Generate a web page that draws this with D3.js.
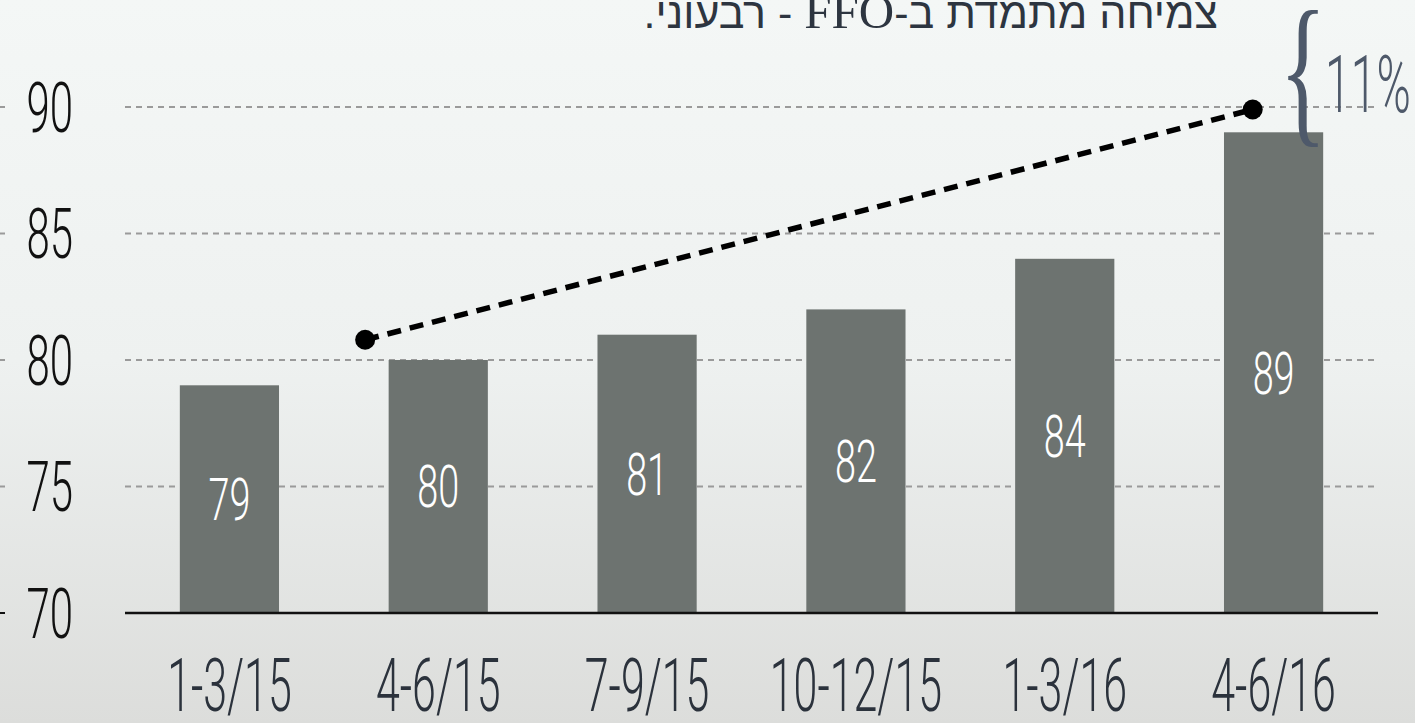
<!DOCTYPE html>
<html>
<head>
<meta charset="utf-8">
<script src="https://cdn.jsdelivr.net/npm/d3@7"></script>
<style>
  html, body { margin: 0; padding: 0; background: #eef0ef; }
  svg { display: block; }
</style>
</head>
<body>
<svg id="chart"></svg>
<script>
const quarters = ["1-3/15", "4-6/15", "7-9/15", "10-12/15", "1-3/16", "4-6/16"]
const ffo = [79, 80, 81, 82, 84, 89]
const yTicks = [70, 75, 80, 85, 90]
// trend line ends: position in category units, value on the y scale
const trendAt = [0.65, 4.9]
const trendValue = [80.8, 89.9]
const titleParts = ["צמיחה מתמדת ב-", "FFO", " - רבעוני."]
const growthLabel = "11%"

const width = 1415, height = 723
const margin = {top: 107, right: 37, bottom: 110, left: 125}

const svg = d3.select("#chart")
    .attr("width", width)
    .attr("height", height)

// washed out backdrop
const defs = svg.append("defs")
const grad = defs.append("linearGradient")
    .attr("id", "bg").attr("x1", 0).attr("y1", 0).attr("x2", 0).attr("y2", 1)
grad.append("stop").attr("offset", "0%").attr("stop-color", "#f4f7f6")
grad.append("stop").attr("offset", "50%").attr("stop-color", "#eef1f0")
grad.append("stop").attr("offset", "100%").attr("stop-color", "#dcdddb")
svg.append("rect")
    .attr("width", width).attr("height", height)
    .attr("fill", "url(#bg)")

const x = d3.scaleBand()
    .domain(quarters)
    .range([margin.left, width - margin.right])
    .paddingInner(0.525)
    .paddingOuter(0.2625)

const y = d3.scaleLinear()
    .domain([70, 90])
    .range([613, margin.top])

const xPos = d3.scaleLinear()
    .domain([0, quarters.length - 1])
    .range([x(quarters[0]) + x.bandwidth() / 2, x(quarters[quarters.length - 1]) + x.bandwidth() / 2])

const thin = "Roboto, 'Open Sans', sans-serif"

// grid lines
const grid = svg.append("g")
grid.selectAll(".grid")
    .data(yTicks.filter(d => d !== 70))
    .join("line")
    .attr("x1", margin.left).attr("x2", width - margin.right)
    .attr("y1", d => y(d)).attr("y2", d => y(d))
    .attr("stroke", "#9a9a9a")
    .attr("stroke-width", 2)
    .attr("stroke-dasharray", "6,5")
grid.selectAll(".stub")
    .data(yTicks)
    .join("line")
    .attr("x1", 0).attr("x2", 5)
    .attr("y1", d => y(d)).attr("y2", d => y(d))
    .attr("stroke", d => d === 70 ? "#111" : "#9a9a9a")
    .attr("stroke-width", 2)

// y labels
svg.append("g")
    .selectAll("text")
    .data(yTicks)
    .join("text")
    .attr("transform", d => `translate(73,${y(d)}) scale(0.6,1)`)
    .attr("text-anchor", "end")
    .attr("dy", "0.355em")
    .style("font-family", thin)
    .style("font-weight", 300)
    .style("font-size", "70px")
    .attr("fill", "#111")
    .text(d => d)

// bars
svg.append("g")
    .selectAll("rect")
    .data(ffo)
    .join("rect")
    .attr("x", (d, i) => x(quarters[i]))
    .attr("width", x.bandwidth())
    .attr("y", d => y(d))
    .attr("height", d => y(70) - y(d))
    .attr("fill", "#6d7370")

// value labels inside bars
svg.append("g")
    .selectAll("text")
    .data(ffo)
    .join("text")
    .attr("transform", (d, i) => `translate(${x(quarters[i]) + x.bandwidth() / 2},${(y(d) + y(70)) / 2}) scale(0.64,1)`)
    .attr("text-anchor", "middle")
    .attr("dy", "0.355em")
    .style("font-family", thin)
    .style("font-weight", 300)
    .style("font-size", "59px")
    .attr("fill", "#fff")
    .text(d => d)

// baseline
svg.append("line")
    .attr("x1", margin.left).attr("x2", width - margin.right)
    .attr("y1", y(70)).attr("y2", y(70))
    .attr("stroke", "#111")
    .attr("stroke-width", 2.5)

// x labels
svg.append("g")
    .selectAll("text")
    .data(quarters)
    .join("text")
    .attr("transform", d => `translate(${x(d) + x.bandwidth() / 2},685) scale(0.58,1)`)
    .attr("text-anchor", "middle")
    .attr("dy", "0.355em")
    .style("font-family", thin)
    .style("font-weight", 300)
    .style("font-size", "74px")
    .attr("fill", "#2b323c")
    .text(d => d)

// trend line
const trend = trendAt.map((p, i) => [xPos(p), y(trendValue[i])])
svg.append("path")
    .attr("d", d3.line()(trend))
    .attr("fill", "none")
    .attr("stroke", "#000")
    .attr("stroke-width", 5.5)
    .attr("stroke-dasharray", "14,9")
svg.append("g")
    .selectAll("circle")
    .data(trend)
    .join("circle")
    .attr("cx", d => d[0]).attr("cy", d => d[1])
    .attr("r", 10)
    .attr("fill", "#000")

// brace + growth label
svg.append("text")
    .attr("transform", "translate(1303,125) scale(0.6,1)")
    .attr("text-anchor", "middle")
    .style("font-family", "'Liberation Serif', serif")
    .style("font-size", "165px")
    .attr("fill", "#4e596a")
    .text("{")
svg.append("text")
    .attr("transform", "translate(1325,112) scale(0.58,1)")
    .attr("text-anchor", "start")
    .style("font-family", thin)
    .style("font-weight", 300)
    .style("font-size", "80px")
    .attr("fill", "#4e596a")
    .text(growthLabel)

// title (rtl)
const title = svg.append("text")
    .attr("x", 1218).attr("y", 28)
    .attr("direction", "rtl")
    .attr("text-anchor", "start")
    .style("font-family", "'Liberation Sans', 'DejaVu Sans', sans-serif")
    .style("font-size", "43px")
    .attr("fill", "#2d3540")
title.selectAll("tspan")
    .data(titleParts)
    .join("tspan")
    .attr("font-family", (d, i) => i === 1 ? "Liberation Serif" : null)
    .attr("font-size", (d, i) => i === 1 ? 49 : null)
    .text(d => d)
</script>
</body>
</html>
